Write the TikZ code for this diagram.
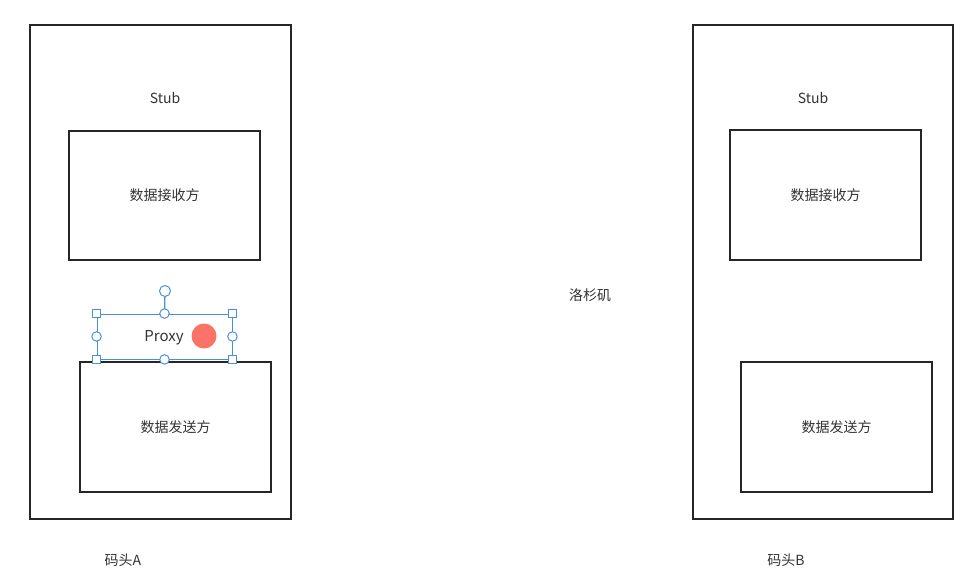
\documentclass[tikz,border=0pt]{standalone}
\usepackage{fontspec}
\setmainfont{Noto Sans CJK SC}
\definecolor{selblue}{HTML}{4A90D9}
\definecolor{dotred}{HTML}{FA7268}
\definecolor{txtgray}{HTML}{333333}
\begin{document}
\begin{tikzpicture}[x=1pt,y=-1pt,
  frame/.style={draw=black!85,line width=1.6pt},
  lbl/.style={font=\fontsize{14}{16}\selectfont,text=txtgray,inner sep=0pt},
  sqh/.style={draw=selblue,fill=white,line width=1pt,minimum size=8.5pt,inner sep=0pt,rectangle},
  cih/.style={draw=selblue,fill=white,line width=1pt,minimum size=9.5pt,inner sep=0pt,circle}]
\useasboundingbox (0,0) rectangle (978,581);
% left dock
\draw[frame] (30,25) rectangle (291,519);
\node[frame,minimum width=191pt,minimum height=129pt,inner sep=0pt] (recvA) at (164.5,195.5) {};
\node[lbl] at (recvA.center) {数据接收方};
\node[lbl] (stubA) at (165,98) {Stub};
\node[frame,minimum width=191pt,minimum height=130pt,inner sep=0pt] (sendA) at (175.5,427) {};
\node[lbl] at (sendA.center) {数据发送方};
\node[lbl] (dockA) at (123,560) {码头A};
% proxy selection
\node[draw=selblue,line width=0.9pt,minimum width=135pt,minimum height=45pt,inner sep=0pt] (proxy) at (164.5,336.5) {};
\node[lbl,font=\fontsize{15}{17}\selectfont] (proxytxt) at (164,338) {Proxy};
\node[circle,fill=dotred,minimum size=25pt,inner sep=0pt] (dot) at (204,336) {};
\coordinate (rot) at (165,291);
\draw[selblue,line width=1.3pt] (proxy.north) -- (rot);
\node[cih,minimum size=11pt] at (rot) {};
\node[sqh] at (proxy.north west) {};
\node[sqh] at (proxy.north east) {};
\node[sqh] at (proxy.south west) {};
\node[sqh] at (proxy.south east) {};
\node[cih] at (proxy.north) {};
\node[cih] at (proxy.south) {};
\node[cih] at (proxy.west) {};
\node[cih] at (proxy.east) {};
% middle
\node[lbl] (la) at (590,295) {洛杉矶};
% right dock
\draw[frame] (693,25) rectangle (953,519);
\node[frame,minimum width=191pt,minimum height=130pt,inner sep=0pt] (recvB) at (825.5,195) {};
\node[lbl] at (recvB.center) {数据接收方};
\node[lbl] (stubB) at (813,98) {Stub};
\node[frame,minimum width=191pt,minimum height=130pt,inner sep=0pt] (sendB) at (836.5,427) {};
\node[lbl] at (sendB.center) {数据发送方};
\node[lbl] (dockB) at (786,560) {码头B};
\end{tikzpicture}
\end{document}
